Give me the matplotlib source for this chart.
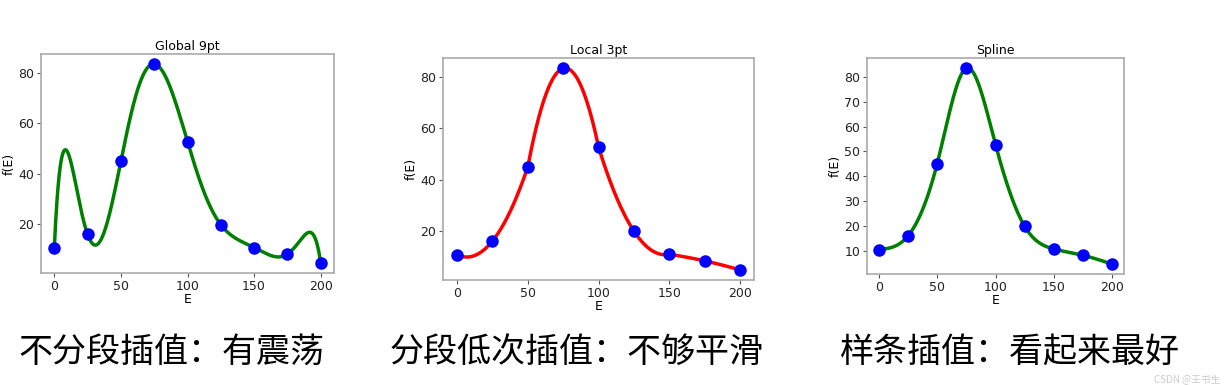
import numpy as np
import matplotlib
matplotlib.use("Agg")
import matplotlib.pyplot as plt

plt.rcParams["font.family"] = ["DejaVu Sans"]

# data points (Breit-Wigner style)
E = np.array([0, 25, 50, 75, 100, 125, 150, 175, 200], dtype=float)
fE = np.array([10.6, 16.0, 45.0, 83.5, 52.8, 19.9, 10.8, 8.25, 4.7])

titles = ["Global 9pt", "Local 3pt", "Spline"]
captions = ["不分段插值：有震荡", "分段低次插值：不够平滑", "样条插值：看起来最好"]

xs = np.linspace(E[0], E[-1], 1000)


def lagrange(xn, yn, x):
    out = np.zeros_like(x)
    for i in range(len(xn)):
        li = np.ones_like(x)
        for j in range(len(xn)):
            if j != i:
                li *= (x - xn[j]) / (xn[i] - xn[j])
        out += yn[i] * li
    return out


def local3(xn, yn, x):
    out = np.zeros_like(x)
    for k in range(0, len(xn) - 2, 2):
        m = (x >= xn[k]) & (x <= xn[k + 2])
        out[m] = lagrange(xn[k:k + 3], yn[k:k + 3], x[m])
    return out


def natural_spline(xn, yn, x):
    n = len(xn)
    h = np.diff(xn)
    A = np.zeros((n, n))
    r = np.zeros(n)
    A[0, 0] = A[-1, -1] = 1
    for i in range(1, n - 1):
        A[i, i - 1] = h[i - 1]
        A[i, i] = 2 * (h[i - 1] + h[i])
        A[i, i + 1] = h[i]
        r[i] = 6 * ((yn[i + 1] - yn[i]) / h[i] - (yn[i] - yn[i - 1]) / h[i - 1])
    M = np.linalg.solve(A, r)
    idx = np.clip(np.searchsorted(xn, x) - 1, 0, n - 2)
    x0, x1 = xn[idx], xn[idx + 1]
    hh = x1 - x0
    return (M[idx] * (x1 - x) ** 3 / (6 * hh) + M[idx + 1] * (x - x0) ** 3 / (6 * hh)
            + (yn[idx] / hh - M[idx] * hh / 6) * (x1 - x)
            + (yn[idx + 1] / hh - M[idx + 1] * hh / 6) * (x - x0))


curves = [lagrange(E, fE, xs), local3(E, fE, xs), natural_spline(E, fE, xs)]
colors = ["green", "red", "green"]

fig = plt.figure(figsize=(12.24, 3.85), dpi=100)
W, H = 1224, 385
boxes = [(41, 54, 334, 273), (443, 58, 754, 280), (867, 58, 1124, 274)]

for k, (l, t, r, b) in enumerate(boxes):
    ax = fig.add_axes([l / W, 1 - b / H, (r - l) / W, (b - t) / H])
    ax.plot(xs, curves[k], color=colors[k], lw=2.5)
    ax.plot(E, fE, "o", color="blue", ms=8)
    ax.set_title(titles[k], fontsize=9, pad=3)
    ax.set_xlabel("E", fontsize=9, labelpad=0)
    ax.set_ylabel("f(E)", fontsize=9, labelpad=2)
    ax.set_xticks([0, 50, 100, 150, 200])
    if k == 2:
        ax.set_yticks(range(10, 90, 10))
    else:
        ax.set_yticks([20, 40, 60, 80])
    ax.tick_params(labelsize=9, length=3, color="#555555", pad=2,
                   labelcolor="#222222")
    for s in ax.spines.values():
        s.set_color("#aaaaaa")
        s.set_linewidth(1.2)

cjk = ["Noto Sans CJK SC", "DejaVu Sans"]
for x0, txt in zip([18, 390, 840], captions):
    fig.text(x0 / W, 1 - 352 / H, txt, fontsize=24.5, family=cjk,
             ha="left", va="center", color="black")

fig.text(1220 / W, 1 - 379 / H, "CSDN @王书生", fontsize=7, family=cjk,
         color="#cccccc", ha="right", va="center")

fig.savefig("out.png", dpi=100)
